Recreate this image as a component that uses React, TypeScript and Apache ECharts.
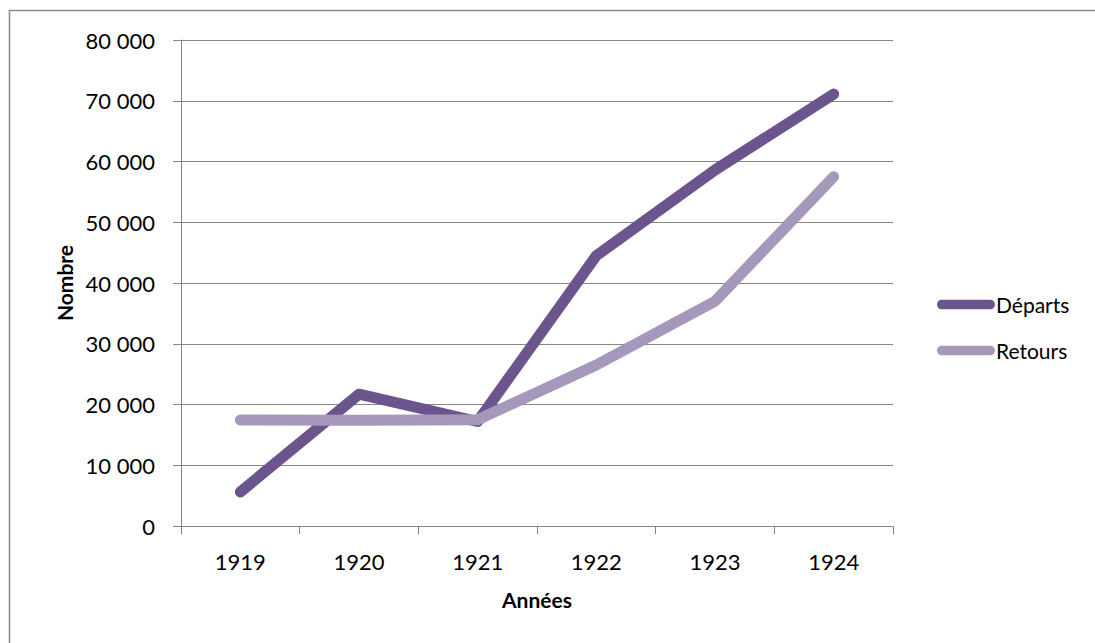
import React, { useEffect, useRef } from "react";
import * as echarts from "echarts";

const categories = ["1919", "1920", "1921", "1922", "1923", "1924"];
const departs = [5600, 21700, 17200, 44500, 58600, 71100];
const retours = [17450, 17400, 17500, 26500, 37000, 57500];
const yTicks = { min: 0, max: 80000, interval: 10000 };

const FONT = "Lato, 'Open Sans', sans-serif";
const FS = 22;
const capsule = "path://M5,0 H55 A5,5 0 0 1 55,10 H5 A5,5 0 0 1 5,0 Z";

export default function App() {
  const ref = useRef<HTMLDivElement>(null);
  useEffect(() => {
    document.body.style.margin = "0";
    const chart = echarts.init(ref.current!, null, { renderer: "svg" });
    chart.setOption({
      animation: false,
      backgroundColor: "#ffffff",
      textStyle: { fontFamily: FONT },
      graphic: [
        {
          type: "rect",
          shape: { x: 9.5, y: 10.5, width: 2000, height: 2000 },
          style: { fill: "none", stroke: "#8c8c8c", lineWidth: 1.5 },
          silent: true,
        },
      ],
      grid: { left: 181, right: 202, top: 40, bottom: 117, containLabel: false },
      legend: {
        orient: "vertical",
        left: 932,
        top: 289,
        icon: capsule,
        itemWidth: 58,
        itemHeight: 11,
        itemGap: 25,
        textStyle: { fontFamily: FONT, fontSize: FS - 1, color: "#000", padding: [0, 0, 0, -4] },
        data: ["Départs", "Retours"],
      },
      xAxis: {
        type: "category",
        data: categories,
        boundaryGap: true,
        name: "Années",
        nameLocation: "middle",
        nameGap: 63,
        nameTextStyle: { fontFamily: FONT, fontSize: FS - 1, fontWeight: "bold", color: "#000" },
        axisLine: { show: true, lineStyle: { color: "#868686", width: 1 } },
        axisTick: { show: true, length: 8, alignWithLabel: false, lineStyle: { color: "#868686" } },
        axisLabel: { fontFamily: FONT, fontSize: FS, color: "#000", margin: 24 },
      },
      yAxis: {
        type: "value",
        min: yTicks.min,
        max: yTicks.max,
        interval: yTicks.interval,
        name: "Nombre",
        nameLocation: "middle",
        nameGap: 106,
        nameRotate: 90,
        nameTextStyle: { fontFamily: FONT, fontSize: FS - 1, fontWeight: "bold", color: "#000" },
        axisLine: { show: true, lineStyle: { color: "#868686", width: 1 } },
        axisTick: { show: true, length: 8, lineStyle: { color: "#868686" } },
        splitLine: { show: true, lineStyle: { color: "#868686", width: 1 } },
        axisLabel: {
          fontFamily: FONT,
          fontSize: FS,
          color: "#000",
          margin: 26,
          formatter: (v: number) => String(v).replace(/\B(?=(\d{3})+(?!\d))/g, " "),
        },
      },
      series: [
        {
          name: "Départs",
          type: "line",
          data: departs,
          symbol: "none",
          color: "#6c558c",
          lineStyle: { width: 11, color: "#6c558c", cap: "round", join: "round" },
        },
        {
          name: "Retours",
          type: "line",
          data: retours,
          symbol: "none",
          color: "#a698bb",
          lineStyle: { width: 11, color: "#a698bb", cap: "round", join: "round" },
        },
      ],
    });
    return () => chart.dispose();
  }, []);
  return (
    <div
      ref={ref}
      style={{ position: "absolute", left: 0, top: 0, width: 1095, height: 643 }}
    />
  );
}
